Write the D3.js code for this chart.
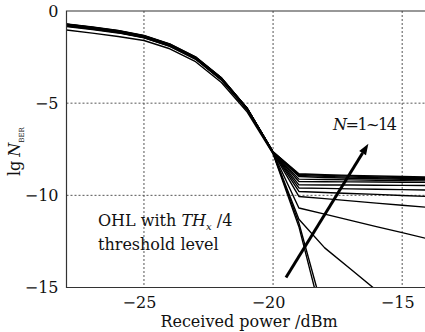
<!DOCTYPE html>
<html>
<head>
<meta charset="utf-8">
<script src="https://cdn.jsdelivr.net/npm/d3@7"></script>
<style>
  body { margin: 0; background: #fff; }
  text { font-family: "DejaVu Serif", serif; fill: #111; }
</style>
</head>
<body>
<div id="main"></div>
<script>
// received power (dBm)
const power = [-28, -27, -26, -25, -24, -23, -22, -21, -20, -19, -18, -17, -16, -15, -14];

// lg N_BER for N = 1..14
const n1 = [-1.03, -1.20, -1.38, -1.60, -2.05, -2.75, -3.88, -5.48, -7.75, -11.70, -17.20, null, null, null, null];
const n2 = [-0.84, -1.00, -1.19, -1.46, -1.92, -2.62, -3.75, -5.37, -7.72, -11.50, -16.60, null, null, null, null];
const n3 = [-0.82, -0.98, -1.17, -1.44, -1.90, -2.60, -3.73, -5.35, -7.70, -11.30, -12.85, -14.00, -15.15, null, null];
const n4 = [-0.80, -0.97, -1.16, -1.43, -1.89, -2.59, -3.72, -5.34, -7.69, -10.69, -11.02, -11.36, -11.70, -12.02, -12.36];
const n5 = [-0.79, -0.96, -1.15, -1.42, -1.88, -2.58, -3.71, -5.33, -7.68, -10.06, -10.18, -10.30, -10.42, -10.54, -10.65];
const n6 = [-0.78, -0.95, -1.14, -1.41, -1.87, -2.57, -3.70, -5.32, -7.67, -9.79, -9.85, -9.90, -9.95, -10.01, -10.06];
const n7 = [-0.77, -0.94, -1.13, -1.40, -1.86, -2.56, -3.69, -5.31, -7.67, -9.60, -9.62, -9.65, -9.67, -9.69, -9.71];
const n8 = [-0.76, -0.93, -1.12, -1.39, -1.85, -2.55, -3.68, -5.31, -7.66, -9.43, -9.44, -9.44, -9.45, -9.46, -9.47];
const n9 = [-0.75, -0.92, -1.11, -1.38, -1.84, -2.54, -3.67, -5.30, -7.66, -9.25, -9.26, -9.27, -9.28, -9.29, -9.30];
const n10 = [-0.74, -0.91, -1.10, -1.37, -1.83, -2.53, -3.66, -5.30, -7.65, -9.12, -9.14, -9.16, -9.18, -9.20, -9.22];
const n11 = [-0.73, -0.90, -1.09, -1.36, -1.82, -2.52, -3.65, -5.29, -7.65, -8.98, -9.03, -9.07, -9.10, -9.13, -9.15];
const n12 = [-0.72, -0.89, -1.08, -1.35, -1.81, -2.51, -3.64, -5.29, -7.65, -8.92, -8.97, -9.01, -9.05, -9.08, -9.10];
const n13 = [-0.71, -0.88, -1.07, -1.34, -1.80, -2.50, -3.63, -5.28, -7.64, -8.87, -8.92, -8.96, -9.00, -9.03, -9.05];
const n14 = [-0.70, -0.87, -1.06, -1.33, -1.79, -2.49, -3.62, -5.28, -7.64, -8.83, -8.88, -8.92, -8.95, -8.98, -9.00];
const series = [n1, n2, n3, n4, n5, n6, n7, n8, n9, n10, n11, n12, n13, n14];

const xTicks = [-25, -20, -15];
const yTicks = [0, -5, -10, -15];
const yGrid = [-5, -10];

// arrow for N=1~14, in data units
const arrowFrom = [-19.5, -14.46];
const arrowTo = [-16.31, -7.2];

const width = 425;
const height = 332;
const margin = { top: 11, left: 66.5, bottom: 44.5 };

const svg = d3.select("#main")
  .append("svg")
  .attr("width", width)
  .attr("height", height);

const xScale = d3.scaleLinear()
  .domain([-28, -14])
  .range([margin.left, 428]);

const yScale = d3.scaleLinear()
  .domain([-15, 0])
  .range([height - margin.bottom, margin.top]);

svg.append("clipPath")
  .attr("id", "plot-clip")
  .append("rect")
  .attr("x", xScale(-28))
  .attr("y", yScale(0))
  .attr("width", xScale(-14) - xScale(-28))
  .attr("height", yScale(-15) - yScale(0));

// grid
svg.append("g")
  .selectAll("line")
  .data(xTicks)
  .enter()
  .append("line")
  .attr("x1", d => xScale(d))
  .attr("x2", d => xScale(d))
  .attr("y1", yScale(0))
  .attr("y2", yScale(-15))
  .attr("stroke", "#555")
  .attr("stroke-width", 1)
  .attr("stroke-dasharray", "2,2");

svg.append("g")
  .selectAll("line")
  .data(yGrid)
  .enter()
  .append("line")
  .attr("x1", xScale(-28))
  .attr("x2", xScale(-14))
  .attr("y1", d => yScale(d))
  .attr("y2", d => yScale(d))
  .attr("stroke", "#555")
  .attr("stroke-width", 1)
  .attr("stroke-dasharray", "2,2");

// curves
const line = d3.line()
  .defined(d => d[1] != null)
  .x(d => xScale(d[0]))
  .y(d => yScale(d[1]));

svg.append("g")
  .attr("clip-path", "url(#plot-clip)")
  .selectAll("path")
  .data(series)
  .enter()
  .append("path")
  .attr("d", s => line(s.map((v, i) => [power[i], v])))
  .attr("fill", "none")
  .attr("stroke", "#000")
  .attr("stroke-width", 1.4)
  .attr("stroke-linejoin", "round");

// frame
svg.append("path")
  .attr("d", "M" + xScale(-14) + "," + yScale(0) + "H" + xScale(-28) + "V" + yScale(-15) + "H" + xScale(-14))
  .attr("fill", "none")
  .attr("stroke", "#333")
  .attr("stroke-width", 1.2);

// axes
const xAxis = d3.axisBottom(xScale)
  .tickValues(xTicks)
  .tickSize(0)
  .tickPadding(9);

const yAxis = d3.axisLeft(yScale)
  .tickValues(yTicks)
  .tickSize(0)
  .tickPadding(8);

svg.append("g")
  .attr("transform", "translate(0," + yScale(-15) + ")")
  .call(xAxis)
  .call(g => g.select(".domain").remove())
  .selectAll("text")
  .attr("dx", -5)
  .style("font-family", "DejaVu Serif")
  .style("font-size", "16px")
  .attr("fill", "#111");

svg.append("g")
  .attr("transform", "translate(" + xScale(-28) + ",0)")
  .call(yAxis)
  .call(g => g.select(".domain").remove())
  .selectAll("text")
  .style("font-family", "DejaVu Serif")
  .style("font-size", "16px")
  .attr("fill", "#111");

// axis titles
svg.append("text")
  .attr("x", 249)
  .attr("y", 327)
  .style("text-anchor", "middle")
  .style("font-size", "16px")
  .text("Received power /dBm");

const yLabel = svg.append("text")
  .attr("transform", "translate(20,176) rotate(-90)")
  .style("font-size", "16px");
yLabel.append("tspan").text("lg");
yLabel.append("tspan").attr("dx", 4).style("font-style", "italic").text("N");
yLabel.append("tspan").attr("dy", 4).style("font-size", "7px").text("BER");

// annotations
const note = svg.append("text")
  .attr("x", xScale(-26.78))
  .attr("y", yScale(-11.68))
  .style("font-size", "16px");
note.append("tspan").text("OHL with ");
note.append("tspan").style("font-style", "italic").text("TH");
note.append("tspan").attr("dy", 4).style("font-style", "italic").style("font-size", "10px").text("x");
note.append("tspan").attr("dy", -4).text(" /4");

svg.append("text")
  .attr("x", xScale(-26.78))
  .attr("y", yScale(-12.95))
  .style("font-size", "16px")
  .text("threshold level");

const nLabel = svg.append("text")
  .attr("x", xScale(-17.68))
  .attr("y", yScale(-6.48))
  .style("font-size", "16px")
  .style("letter-spacing", "-1.5px");
nLabel.append("tspan").style("font-style", "italic").text("N");
nLabel.append("tspan").text("=1~14");

// arrow
const ax1 = xScale(arrowFrom[0]), ay1 = yScale(arrowFrom[1]);
const ax2 = xScale(arrowTo[0]), ay2 = yScale(arrowTo[1]);
const ang = Math.atan2(ay2 - ay1, ax2 - ax1);
const headLen = 11, headHalf = 4;
const bx = ax2 - headLen * Math.cos(ang), by = ay2 - headLen * Math.sin(ang);

svg.append("line")
  .attr("x1", ax1)
  .attr("y1", ay1)
  .attr("x2", bx)
  .attr("y2", by)
  .attr("stroke", "#000")
  .attr("stroke-width", 3);

svg.append("polygon")
  .attr("points", [
    [ax2, ay2],
    [bx + headHalf * Math.sin(ang), by - headHalf * Math.cos(ang)],
    [bx - headHalf * Math.sin(ang), by + headHalf * Math.cos(ang)]
  ].map(p => p.join(",")).join(" "))
  .attr("fill", "#000");
</script>
</body>
</html>
